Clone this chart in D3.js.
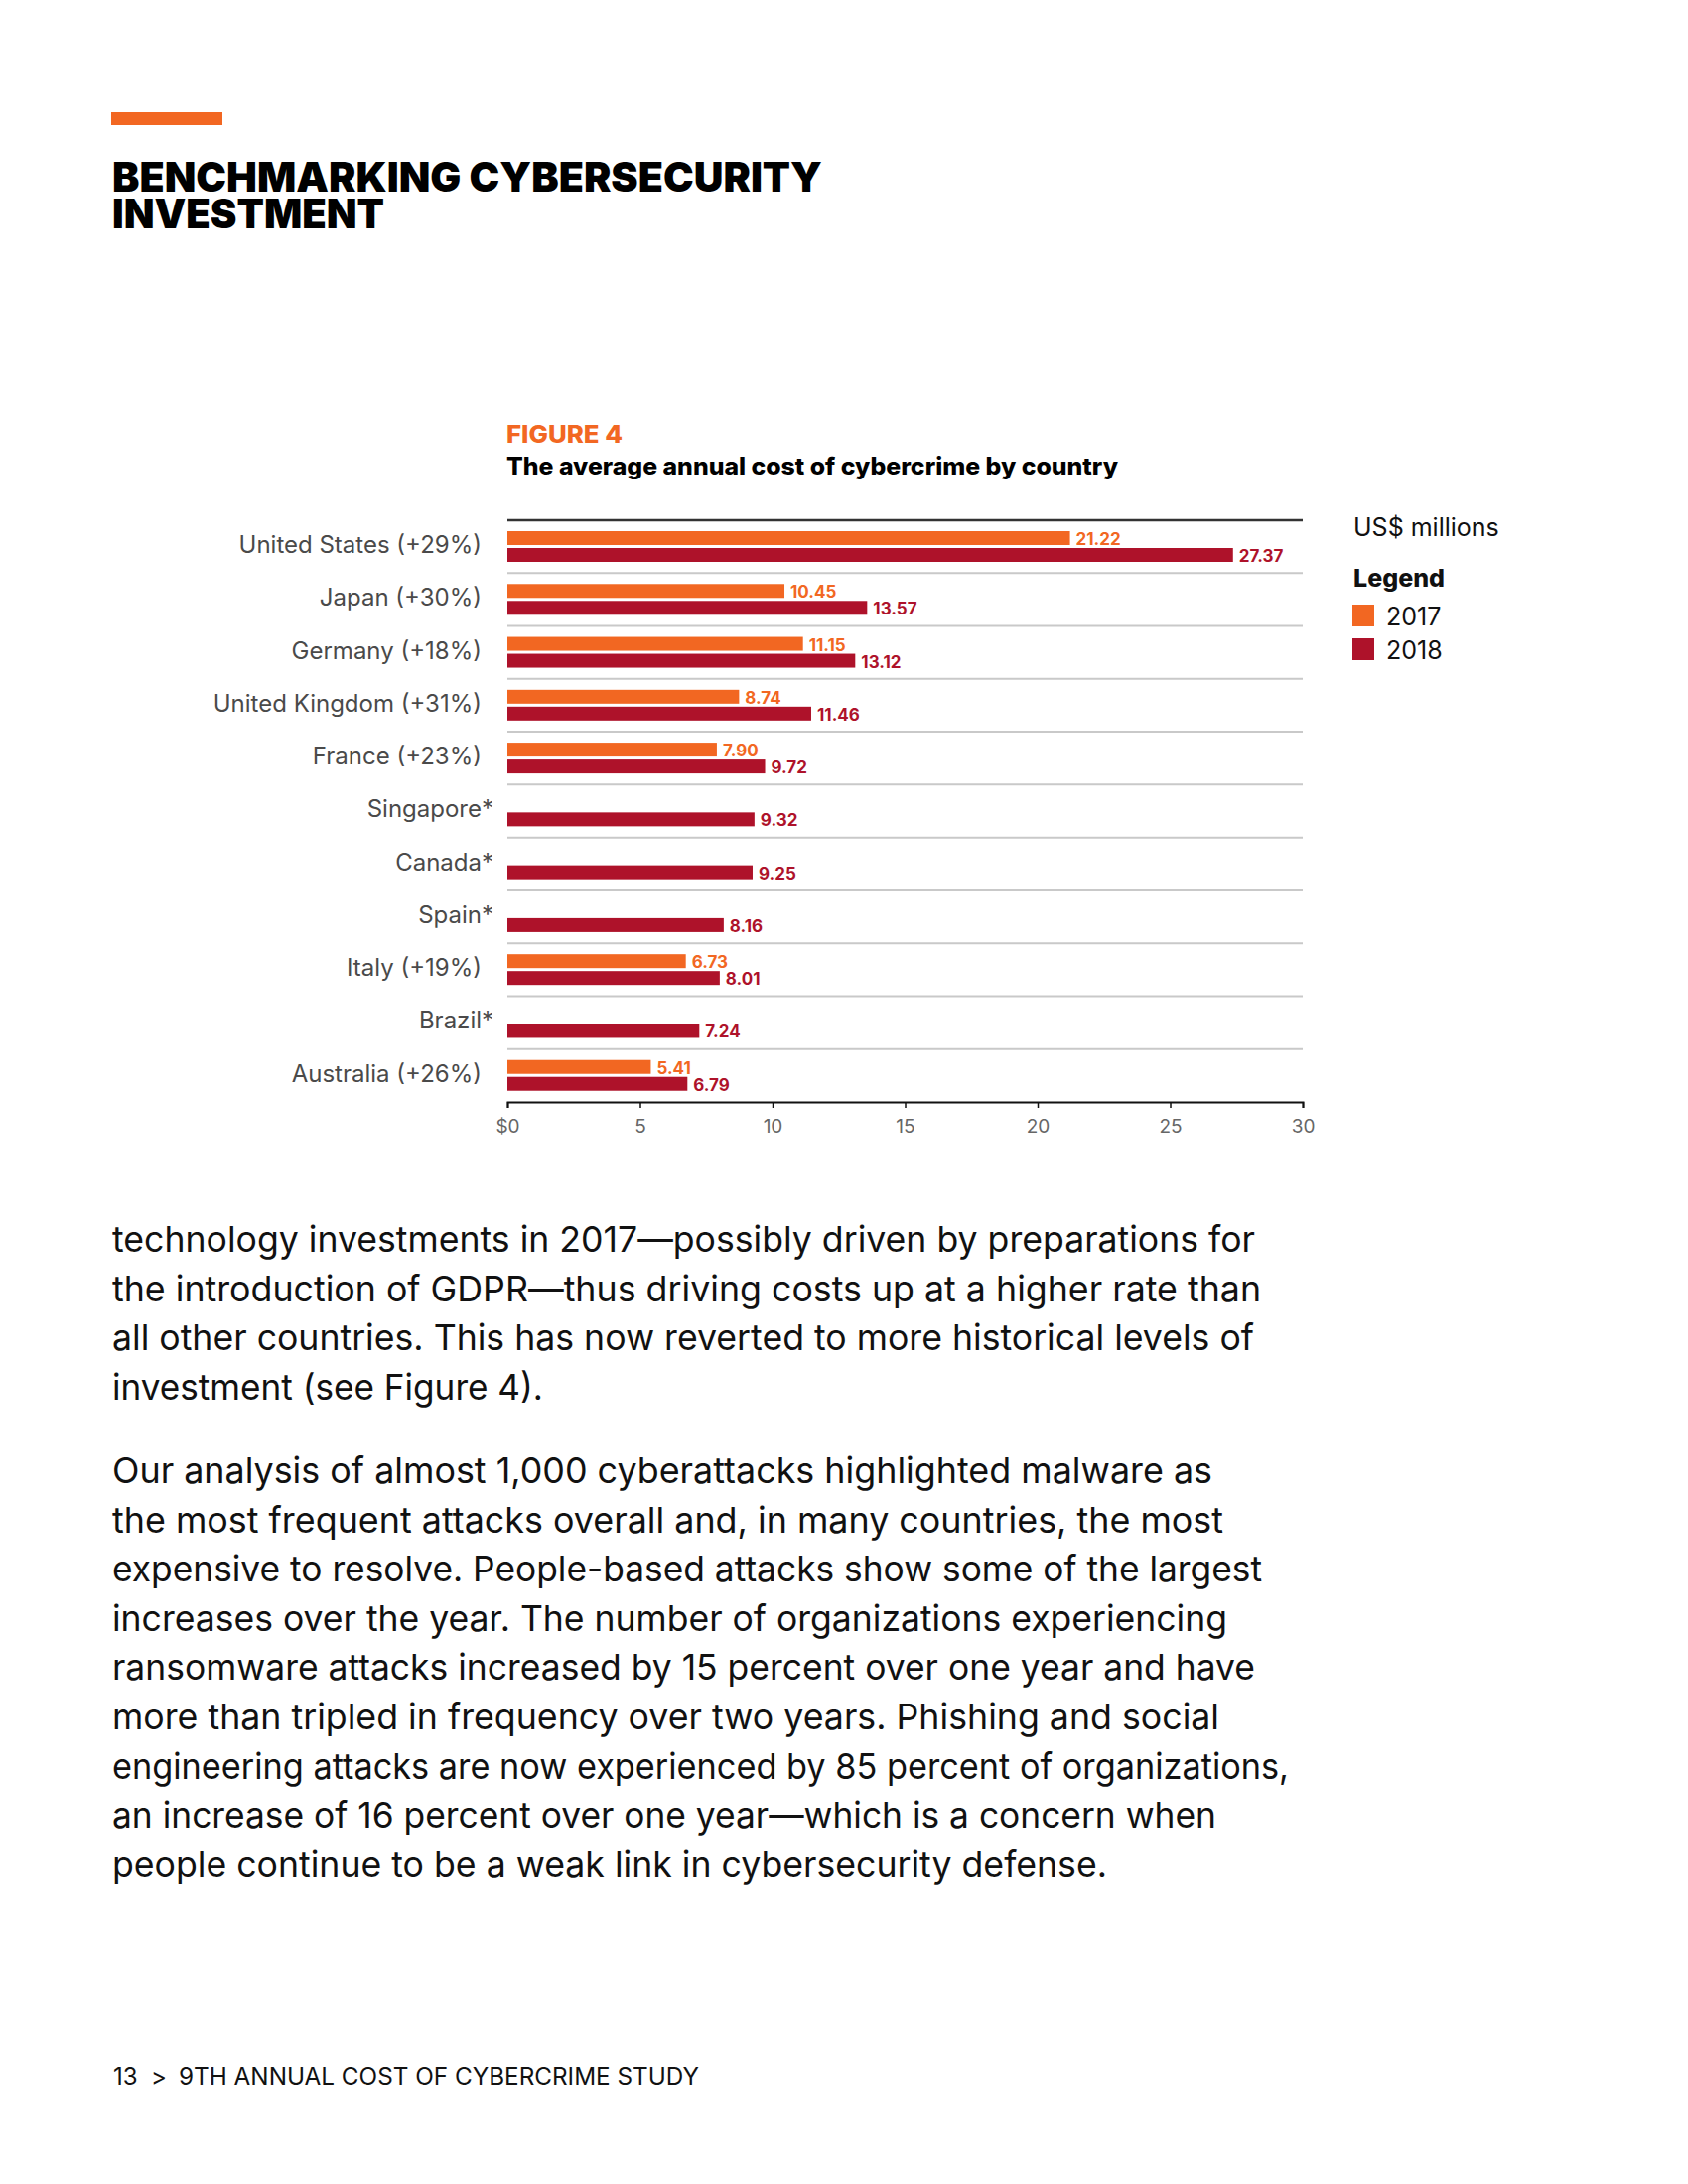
<!DOCTYPE html>
<html>
<head>
<meta charset="utf-8">
<script src="https://cdn.jsdelivr.net/npm/d3@7"></script>
<style>
  body { margin: 0; background: #fff; }
  svg { display: block; }
</style>
</head>
<body>
<svg id="page" width="1700" height="2200"></svg>
<script>
// chart data
const countries = ["United States (+29%)", "Japan (+30%)", "Germany (+18%)", "United Kingdom (+31%)",
  "France (+23%)", "Singapore*", "Canada*", "Spain*", "Italy (+19%)", "Brazil*", "Australia (+26%)"];
const cost2017 = [21.22, 10.45, 11.15, 8.74, 7.90, null, null, null, 6.73, null, 5.41];
const cost2018 = [27.37, 13.57, 13.12, 11.46, 9.72, 9.32, 9.25, 8.16, 8.01, 7.24, 6.79];
const xTicks = [0, 5, 10, 15, 20, 25, 30];
const seriesNames = ["2017", "2018"];

const para1 = [
  "technology investments in 2017\u2014possibly driven by preparations for",
  "the introduction of GDPR\u2014thus driving costs up at a higher rate than",
  "all other countries. This has now reverted to more historical levels of",
  "investment (see Figure 4)."
];
const para2 = [
  "Our analysis of almost 1,000 cyberattacks highlighted malware as",
  "the most frequent attacks overall and, in many countries, the most",
  "expensive to resolve. People-based attacks show some of the largest",
  "increases over the year. The number of organizations experiencing",
  "ransomware attacks increased by 15 percent over one year and have",
  "more than tripled in frequency over two years. Phishing and social",
  "engineering attacks are now experienced by 85 percent of organizations,",
  "an increase of 16 percent over one year\u2014which is a concern when",
  "people continue to be a weak link in cybersecurity defense."
];
// right edge of each printed line, used to fit the substitute font
const para1Ends = [1264, 1270, 1263, 547];
const para2Ends = [1221, 1232, 1271, 1236, 1264, 1228, 1298, 1225, 1115];

const ORANGE = "#f26722";
const RED = "#ae122a";
const SANS = "Inter, 'Noto Sans', sans-serif";

const svg = d3.select("#page");

// header: one text block, two lines set tight like the print
svg.append("rect").attr("x", 112).attr("y", 113).attr("width", 112).attr("height", 13).attr("fill", ORANGE);
const head = svg.append("text").attr("font-family", SANS).attr("font-weight", 900)
  .attr("font-size", 41).attr("fill", "#000");
head.append("tspan").attr("x", 113).attr("y", 193).attr("textLength", 715).attr("lengthAdjust", "spacingAndGlyphs")
  .text("BENCHMARKING CYBERSECURITY");
head.append("tspan").attr("x", 113).attr("y", 230).attr("textLength", 274).attr("lengthAdjust", "spacingAndGlyphs")
  .text("INVESTMENT");

// figure titles
svg.append("text").attr("x", 510).attr("y", 446).attr("font-family", SANS).attr("font-weight", 800)
  .attr("font-size", 24).attr("fill", ORANGE).attr("textLength", 117).attr("lengthAdjust", "spacingAndGlyphs")
  .text("FIGURE 4");
svg.append("text").attr("x", 510).attr("y", 478).attr("font-family", SANS).attr("font-weight", 800)
  .attr("font-size", 24).attr("fill", "#000").attr("textLength", 616).attr("lengthAdjust", "spacingAndGlyphs")
  .text("The average annual cost of cybercrime by country");

// scales
const x = d3.scaleLinear().domain([0, 30]).range([511, 1312]);
const y = d3.scaleBand().domain(countries).range([524, 1110]);

const rows = countries.map((c, i) => ({name: c, v17: cost2017[i], v18: cost2018[i]}));

// row separators
svg.append("g").selectAll("line").data(countries.slice(1)).join("line")
  .attr("x1", x(0)).attr("x2", x(30))
  .attr("y1", d => y(d)).attr("y2", d => y(d))
  .attr("stroke", "#c9c9c9").attr("stroke-width", 2);
svg.append("line").attr("x1", x(0)).attr("x2", x(30)).attr("y1", y(countries[0])).attr("y2", y(countries[0]))
  .attr("stroke", "#333").attr("stroke-width", 2.5);

// bars
const barH = 14;
const bars = svg.append("g");
bars.selectAll("rect.b17").data(rows.filter(r => r.v17 != null)).join("rect")
  .attr("class", "b17")
  .attr("x", x(0)).attr("y", d => y(d.name) + 11)
  .attr("width", d => x(d.v17) - x(0)).attr("height", barH)
  .attr("fill", ORANGE);
bars.selectAll("rect.b18").data(rows).join("rect")
  .attr("class", "b18")
  .attr("x", x(0)).attr("y", d => y(d.name) + 28)
  .attr("width", d => x(d.v18) - x(0)).attr("height", barH)
  .attr("fill", RED);

// value labels
const fmt = d3.format(".2f");
const vals = svg.append("g").attr("font-family", SANS).attr("font-weight", 700).attr("font-size", 17);
vals.selectAll("text.l17").data(rows.filter(r => r.v17 != null)).join("text")
  .attr("class", "l17")
  .attr("x", d => x(d.v17) + 6).attr("y", d => y(d.name) + 11 + barH)
  .attr("fill", ORANGE).text(d => fmt(d.v17));
vals.selectAll("text.l18").data(rows).join("text")
  .attr("class", "l18")
  .attr("x", d => x(d.v18) + 6).attr("y", d => y(d.name) + 28 + barH)
  .attr("fill", RED).text(d => fmt(d.v18));

// country labels, asterisk hangs past the alignment edge
const labels = svg.append("g").attr("font-family", SANS).attr("font-size", 24).attr("fill", "#4a4a4a");
labels.selectAll("text.name").data(rows).join("text")
  .attr("class", "name")
  .attr("x", 485).attr("y", d => y(d.name) + 33)
  .attr("text-anchor", "end")
  .text(d => d.name.replace("*", ""));
labels.selectAll("text.star").data(rows.filter(r => r.name.endsWith("*"))).join("text")
  .attr("class", "star")
  .attr("x", 485).attr("y", d => y(d.name) + 33)
  .text("*");

// bottom axis
const axis = svg.append("g").attr("transform", `translate(0,${y.range()[1]})`)
  .call(d3.axisBottom(x).tickValues(xTicks).tickSize(6).tickPadding(12)
    .tickFormat(d => d === 0 ? "$0" : d));
axis.select(".domain").attr("stroke", "#111").attr("stroke-width", 2);
axis.selectAll(".tick line").attr("stroke", "#111").attr("stroke-width", 1.5);
axis.selectAll(".tick text").attr("font-family", SANS).attr("font-size", 19).attr("fill", "#666");

// legend
const leg = svg.append("g").attr("font-family", SANS).attr("fill", "#111");
leg.append("text").attr("x", 1363).attr("y", 540).attr("font-size", 25).text("US$ millions");
leg.append("text").attr("x", 1363).attr("y", 591).attr("font-size", 25).attr("font-weight", 800).text("Legend");
const items = leg.selectAll("g.item").data(seriesNames).join("g")
  .attr("class", "item")
  .attr("transform", (d, i) => `translate(1362,${609 + i * 34})`);
items.append("rect").attr("width", 22).attr("height", 22).attr("fill", (d, i) => i === 0 ? ORANGE : RED);
items.append("text").attr("x", 34).attr("y", 21).attr("font-size", 25).text(d => d);

// body copy
const body = svg.append("g").attr("font-family", SANS).attr("font-size", 36).attr("fill", "#111");
function paragraph(lines, ends, top) {
  body.selectAll(null).data(lines).join("text")
    .attr("x", 113).attr("y", (d, i) => top + i * 49.6)
    .attr("textLength", (d, i) => ends[i] - 113)
    .attr("lengthAdjust", "spacingAndGlyphs")
    .text(d => d);
}
paragraph(para1, para1Ends, 1261);
paragraph(para2, para2Ends, 1494);

// footer
const foot = svg.append("g").attr("font-family", SANS).attr("font-size", 24).attr("fill", "#111");
foot.append("text").attr("x", 114).attr("y", 2100).text("13");
foot.append("text").attr("x", 152).attr("y", 2100).text(">");
foot.append("text").attr("x", 180).attr("y", 2100).attr("textLength", 524).attr("lengthAdjust", "spacingAndGlyphs")
  .text("9TH ANNUAL COST OF CYBERCRIME STUDY");
</script>
</body>
</html>
